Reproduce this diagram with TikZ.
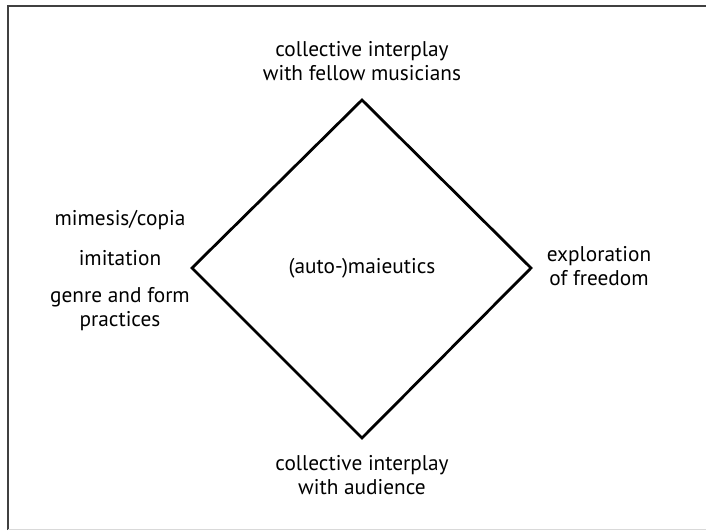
\documentclass[tikz,border=0pt]{standalone}
\usepackage{fontspec}
\setmainfont{PT Sans}
\begin{document}
\begin{tikzpicture}[x=1pt,y=-1pt,
  lbl/.style={anchor=base,align=center,inner sep=0pt,font=\fontsize{21.3}{23.5}\selectfont},
  edge/.style={line width=2.8pt,line join=miter,black}]
\useasboundingbox (0,0) rectangle (706,530);
\fill[white] (0,0) rectangle (706,530);
\draw[line width=2pt,black!75] (8,530) -- (8,5.5) -- (706,5.5);
\draw[line width=1pt,black!15] (8,529.5) -- (706,529.5);
% diamond vertices
\coordinate (T) at (362,100);
\coordinate (L) at (192,268);
\coordinate (R) at (531,268);
\coordinate (B) at (362,438);
\draw[edge] (T) -- (R) -- (B) -- (L) -- cycle;
% labels (base anchor = baseline of the last line)
\node[lbl] (top) at (362,80) {collective interplay\\with fellow musicians};
\node[lbl] (bot) at (362,494) {collective interplay\\with audience};
\node[lbl] (right) at (599,285) {exploration\\of freedom};
\node[lbl] (mim) at (120,225) {mimesis/copia};
\node[lbl] (imi) at (120,265) {imitation};
\node[lbl] (gen) at (120,326) {genre and form\\practices};
\node[lbl] (ctr) at (362,273) {(auto-)maieutics};
\end{tikzpicture}
\end{document}
